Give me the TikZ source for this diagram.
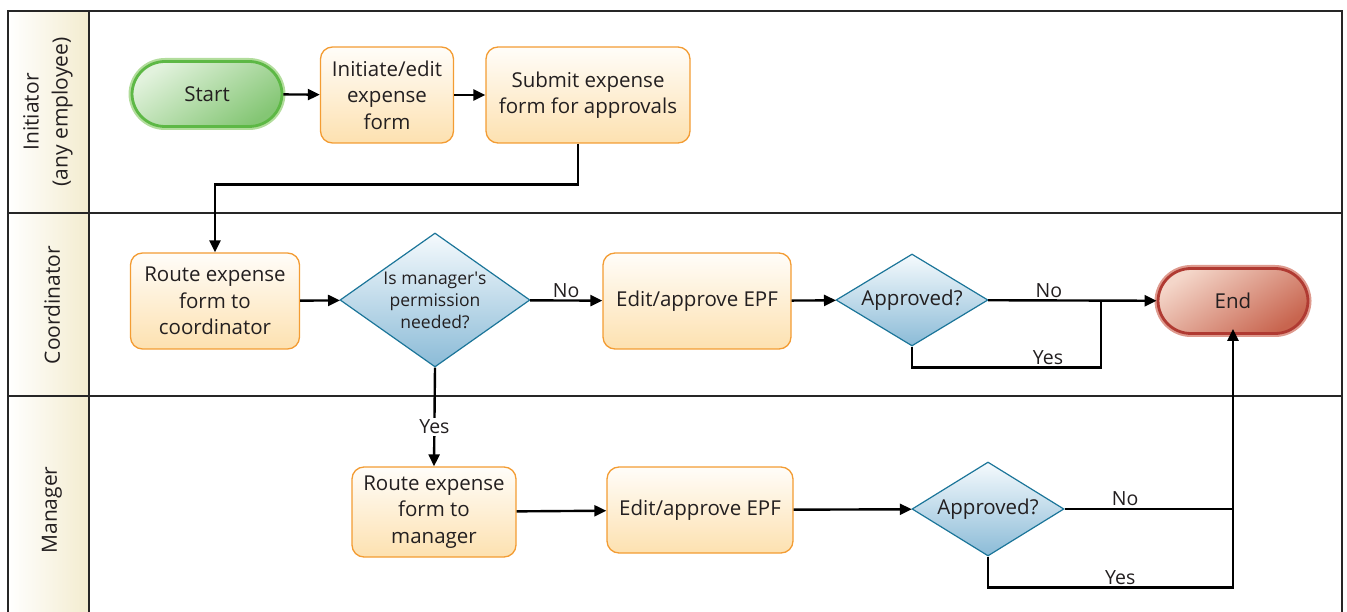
\documentclass[tikz,border=0pt]{standalone}
\usepackage{fontspec}
\setmainfont{Open Sans}
\usepackage{tikz}
\usetikzlibrary{shapes.geometric, arrows.meta, positioning}

\definecolor{txt}{HTML}{231F20}
\definecolor{laneCream}{HTML}{F3ECCF}
\definecolor{boxTop}{HTML}{FFFDF9}
\definecolor{boxBot}{HTML}{FDE1B0}
\definecolor{boxEdge}{HTML}{F39C33}
\definecolor{diaTop}{HTML}{F5FAFD}
\definecolor{diaBot}{HTML}{8BBBD7}
\definecolor{diaEdge}{HTML}{1B7599}
\definecolor{startTop}{HTML}{E2F2DD}
\definecolor{startBot}{HTML}{84C674}
\definecolor{startEdge}{HTML}{5DB845}
\definecolor{startGlow}{HTML}{B2DD9C}
\definecolor{endTop}{HTML}{F4D6C9}
\definecolor{endBot}{HTML}{C8654F}
\definecolor{endEdge}{HTML}{B03A32}
\definecolor{endGlow}{HTML}{DE9A8E}

\begin{document}
\begin{tikzpicture}[x=1pt, y=-1pt,
    font=\fontsize{20.5}{26.5}\selectfont, text=txt,
    taskbox/.style={draw=boxEdge, line width=1.3pt, rounded corners=12pt,
        top color=boxTop, bottom color=boxBot, align=center, inner sep=0pt},
    decision/.style={diamond, draw=diaEdge, line width=1.2pt,
        top color=diaTop, bottom color=diaBot, align=center, inner sep=0pt},
    terminal/.style={rounded corners=33pt, minimum width=150pt, minimum height=65pt},
    lanelabel/.style={rotate=90, align=center, font=\fontsize{21}{29}\selectfont},
    arr/.style={line width=2.4pt, -{Triangle[length=12pt, width=11pt]}},
    conn/.style={line width=2.4pt},
    lbl/.style={font=\fontsize{19.5}{22}\selectfont, inner sep=2pt}]

    \useasboundingbox (0,0) rectangle (1347,612);

    % --- swimlanes ---
    \shade[left color=white, right color=laneCream] (8,11) rectangle (89,612);
    \draw[line width=2.2pt, black!85] (8,612) -- (8,11) -- (1342,11) -- (1342,612);
    \draw[line width=2.2pt, black!85] (89,11) -- (89,612);
    \draw[line width=2.2pt, black!85] (8,213) -- (1342,213);
    \draw[line width=2.2pt, black!85] (8,396) -- (1342,396);

    \node[lanelabel] (lane1) at (48,112) {Initiator\\(any employee)};
    \node[lanelabel] (lane2) at (52,305) {Coordinator};
    \node[lanelabel] (lane3) at (52,510) {Manager};

    % --- Initiator ---
    \node[terminal, draw=startEdge, line width=2.8pt,
          preaction={draw=startGlow, line width=7pt},
          top color=startTop, bottom color=startBot, shading angle=35]
          (start) at (207,94) {Start};
    \node[taskbox, minimum width=133pt, minimum height=96pt] (init) at (387,95)
          {Initiate/edit\\expense\\form};
    \node[taskbox, minimum width=204pt, minimum height=96pt] (submit) at (588,95)
          {Submit expense\\form for approvals};

    % --- Coordinator ---
    \node[taskbox, minimum width=169pt, minimum height=96pt] (routec) at (215,301)
          {Route expense\\form to\\coordinator};
    \node[decision, aspect=1.42, minimum width=190pt, minimum height=134pt,
          font=\fontsize{17.5}{22}\selectfont] (perm) at (435,300)
          {Is manager\textquotesingle s\\permission\\needed?};
    \node[taskbox, minimum width=188pt, minimum height=96pt] (editc) at (697,301)
          {Edit/approve EPF};
    \node[decision, aspect=1.65, minimum width=152pt, minimum height=92pt] (appc) at (912,300)
          {Approved?};
    \node[terminal, draw=endEdge, line width=2.8pt,
          preaction={draw=endGlow, line width=7pt},
          top color=endTop, bottom color=endBot, shading angle=35]
          (endn) at (1233,301) {End};

    % --- Manager ---
    \node[taskbox, minimum width=164pt, minimum height=90pt] (routem) at (434,512)
          {Route expense\\form to\\manager};
    \node[taskbox, minimum width=186pt, minimum height=86pt] (editm) at (700,510)
          {Edit/approve EPF};
    \node[decision, aspect=1.62, minimum width=152pt, minimum height=94pt] (appm) at (988,509)
          {Approved?};

    % --- connectors ---
    \coordinate (jc) at (1101,300);
    \draw[arr] (start) -- (init);
    \draw[arr] (init) -- (submit);
    \draw[arr] ([xshift=-10pt]submit.south) -- ++(0,41) -| (routec.north);
    \draw[arr] (routec) -- (perm);
    \draw[arr] (perm) -- node[lbl, above] {No} (editc);
    \draw[arr] (editc) -- (appc);
    \draw[arr] (appc) -- node[lbl, above, pos=0.36] {No} (endn);
    \draw[conn] (appc.south) -- ++(0,21) -| node[lbl, above, pos=0.36] {Yes} (jc);
    \draw[arr] (perm.south) -- node[lbl, fill=white, pos=0.6] {Yes} (routem.north);
    \draw[arr] (routem) -- (editm);
    \draw[arr] (editm) -- (appm);
    \draw[conn] (appm.east) -- node[lbl, above, pos=0.36] {No} (appm.east -| endn.south);
    \draw[arr] (appm.south) -- ++(0,31) -| node[lbl, above, pos=0.27] {Yes}
          ([yshift=6pt]endn.south);

\end{tikzpicture}
\end{document}
